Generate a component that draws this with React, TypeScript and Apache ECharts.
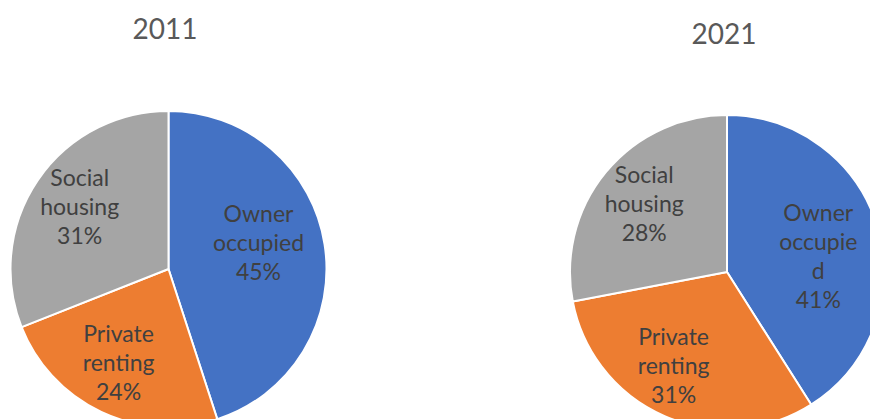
import React, { useEffect, useRef } from "react";
import * as echarts from "echarts";

const categories = ["Owner occupied", "Private renting", "Social housing"];
const years = ["2011", "2021"];
const values2011 = [45, 24, 31];
const values2021 = [41, 31, 28];
const colors = ["#4472C4", "#ED7D31", "#A5A5A5"];
// label line layouts (text wrapping as in the original)
const labels2011 = ["Owner\noccupied\n45%", "Private\nrenting\n24%", "Social\nhousing\n31%"];
const labels2021 = ["Owner\noccupie\nd\n41%", "Private\nrenting\n31%", "Social\nhousing\n28%"];
const offsets2011 = [[9, -14], [-15, 19], [-21, -17]];
const offsets2021 = [[13, 6], [-21, 18], [-20, -17]];

export default function App() {
  const ref = useRef<HTMLDivElement>(null);
  useEffect(() => {
    if (!ref.current) return;
    const chart = echarts.init(ref.current, null, { renderer: "svg" });
    const makeData = (vals: number[], labs: string[], offs: number[][]) =>
      categories.map((c, i) => ({
        name: c,
        value: vals[i],
        itemStyle: { color: colors[i] },
        label: { formatter: labs[i], offset: offs[i] },
      }));
    const labelStyle = {
      show: true,
      position: "inside",
      color: "#404040",
      fontFamily: "Lato",
      fontSize: 23,
      lineHeight: 29,
      align: "center",
    };
    chart.setOption({
      animation: false,
      graphic: [
        {
          type: "text",
          x: 165,
          y: 28,
          style: {
            text: years[0],
            fill: "#595959",
            font: "28px Lato",
            textAlign: "center",
            textVerticalAlign: "middle",
          },
        },
        {
          type: "text",
          x: 724,
          y: 33,
          style: {
            text: years[1],
            fill: "#595959",
            font: "28px Lato",
            textAlign: "center",
            textVerticalAlign: "middle",
          },
        },
      ],
      series: [
        {
          type: "pie",
          center: [168.5, 269],
          radius: 158,
          startAngle: 90,
          clockwise: true,
          itemStyle: { borderColor: "#ffffff", borderWidth: 2 },
          label: labelStyle,
          labelLine: { show: false },
          emphasis: { disabled: true },
          data: makeData(values2011, labels2011, offsets2011),
        },
        {
          type: "pie",
          center: [727, 272],
          radius: 157,
          startAngle: 90,
          clockwise: true,
          itemStyle: { borderColor: "#ffffff", borderWidth: 2 },
          label: labelStyle,
          labelLine: { show: false },
          emphasis: { disabled: true },
          data: makeData(values2021, labels2021, offsets2021),
        },
      ],
    });
    return () => chart.dispose();
  }, []);
  return (
    <div
      ref={ref}
      style={{ position: "absolute", left: 0, top: 0, width: 870, height: 419, background: "#fff" }}
    />
  );
}
